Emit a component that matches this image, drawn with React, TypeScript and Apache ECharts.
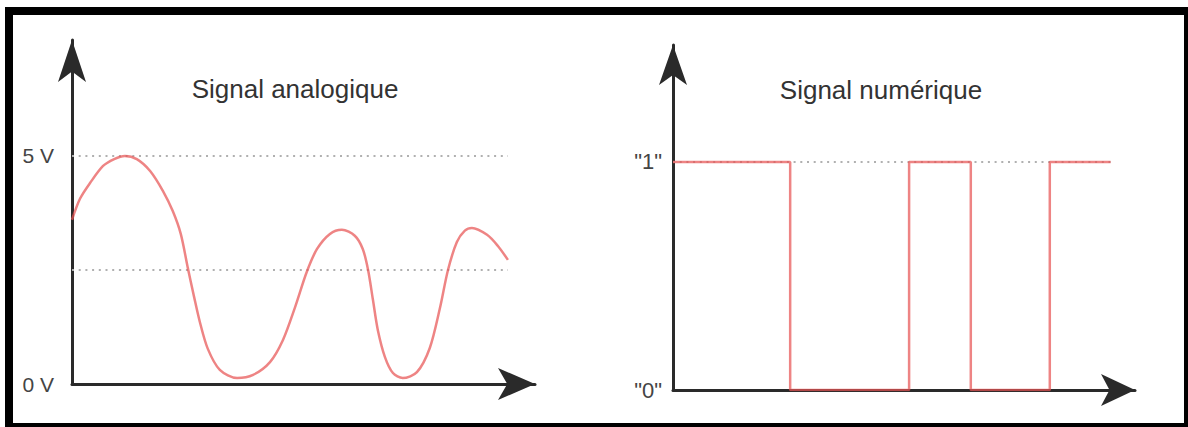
import React, { useEffect, useRef } from "react";
import * as echarts from "echarts";

// Analog signal: time (arbitrary units) and voltage (V)
const analogT = [0, 0.18, 0.41, 0.7, 0.95, 1.19, 1.46, 1.76, 2.05, 2.27, 2.45, 2.61, 2.75, 2.88, 3.06, 3.33, 3.72, 4.08, 4.46, 4.75, 5.02, 5.29, 5.52, 5.81, 6.08, 6.37, 6.55, 6.67, 6.78, 6.89, 7.05, 7.23, 7.45, 7.77, 8.06, 8.29, 8.47, 8.67, 8.85, 9.01, 9.35, 9.59, 9.82];
const analogV = [3.6, 4.06, 4.41, 4.78, 4.93, 5.0, 4.93, 4.67, 4.23, 3.79, 3.29, 2.54, 1.91, 1.36, 0.77, 0.31, 0.13, 0.2, 0.48, 0.96, 1.67, 2.46, 2.96, 3.29, 3.38, 3.25, 2.96, 2.5, 1.84, 1.18, 0.59, 0.24, 0.13, 0.26, 0.79, 1.67, 2.5, 3.11, 3.36, 3.42, 3.27, 3.03, 2.72];
const analogRefLevels = [5, 2.5];
const analogRefEnd = 9.82;
const analogTickValues = [0, 5];
const analogTickLabels = ["0 V", "5 V"];

// Digital signal: transition times and held levels
const digitalT = [0, 2.64, 5.32, 6.71, 8.49, 9.86];
const digitalLevel = [1, 0, 1, 0, 1, 1];
const digitalRefLevels = [1];
const digitalRefEnd = 9.86;
const digitalTickValues = [0, 1];
const digitalTickLabels = ['"0"', '"1"'];

const titles = ["Signal analogique", "Signal numérique"];

const FONT = "'Liberation Sans', Arial, Helvetica, sans-serif";
const AXIS_COLOR = "#2a2a2a";
const RED = "rgba(232,84,84,0.72)";
const DOT = "#b0b0b0";

export default function App() {
  const ref = useRef<HTMLDivElement>(null);

  useEffect(() => {
    if (!ref.current) return;
    const chart = echarts.init(ref.current, undefined, { renderer: "svg" });

    const refSeries = (levels: number[], end: number, axisIdx: number) =>
      levels.map((lv) => ({
        type: "line",
        xAxisIndex: axisIdx,
        yAxisIndex: axisIdx,
        data: [
          [0, lv],
          [end, lv],
        ],
        showSymbol: false,
        silent: true,
        z: 1,
        lineStyle: { color: DOT, width: 2, type: [2, 4.7] },
      }));

    const xAxisCommon = (gridIndex: number, max: number, arrow: [number, number]) => ({
      type: "value",
      gridIndex,
      min: 0,
      max,
      axisLine: {
        show: true,
        onZero: false,
        symbol: ["none", "arrow"],
        symbolSize: arrow,
        lineStyle: { color: AXIS_COLOR, width: 3 },
      },
      axisTick: { show: false },
      axisLabel: { show: false },
      splitLine: { show: false },
    });

    const yAxisCommon = (
      gridIndex: number,
      max: number,
      interval: number,
      values: number[],
      labels: string[],
      arrow: [number, number],
      margin: number,
      fontSize: number
    ) => ({
      type: "value",
      gridIndex,
      min: 0,
      max,
      interval,
      axisLine: {
        show: true,
        onZero: false,
        symbol: ["none", "arrow"],
        symbolSize: arrow,
        lineStyle: { color: AXIS_COLOR, width: 3 },
      },
      axisTick: { show: false },
      splitLine: { show: false },
      axisLabel: {
        show: true,
        margin,
        color: "#444",
        fontFamily: FONT,
        fontSize,
        showMaxLabel: false,
        formatter: (v: number) => {
          const i = values.findIndex((x) => Math.abs(x - v) < 1e-6);
          return i >= 0 ? labels[i] : "";
        },
      },
    });

    chart.setOption({
      animation: false,
      backgroundColor: "#fff",
      grid: [
        { left: 72, top: 40, width: 463, height: 344 },
        { left: 673, top: 45, width: 462, height: 345 },
      ],
      xAxis: [xAxisCommon(0, 10.43, [24, 37]), xAxisCommon(1, 10.41, [24, 34])],
      yAxis: [
        yAxisCommon(0, 7.54, 5, analogTickValues, analogTickLabels, [21, 42], 18, 21),
        yAxisCommon(1, 1.513, 1, digitalTickValues, digitalTickLabels, [21, 40], 11, 22),
      ],
      series: [
        ...refSeries(analogRefLevels, analogRefEnd, 0),
        ...refSeries(digitalRefLevels, digitalRefEnd, 1),
        {
          type: "line",
          xAxisIndex: 0,
          yAxisIndex: 0,
          data: analogT.map((t, i) => [t, analogV[i]]),
          smooth: 0.3,
          showSymbol: false,
          z: 3,
          lineStyle: { color: RED, width: 2.5 },
        },
        {
          type: "line",
          xAxisIndex: 1,
          yAxisIndex: 1,
          data: digitalT.map((t, i) => [t, digitalLevel[i]]),
          step: "end",
          showSymbol: false,
          z: 3,
          lineStyle: { color: RED, width: 2.5 },
        },
      ],
      graphic: [
        {
          type: "text",
          x: 295,
          y: 89,
          style: {
            text: titles[0],
            fill: "#333",
            font: `26px ${FONT}`,
            align: "center",
            verticalAlign: "middle",
          },
        },
        {
          type: "text",
          x: 881,
          y: 90,
          style: {
            text: titles[1],
            fill: "#333",
            font: `26px ${FONT}`,
            align: "center",
            verticalAlign: "middle",
          },
        },
        {
          type: "rect",
          shape: { x: 9, y: 11, width: 1179, height: 416 },
          style: { fill: "none", stroke: "#000", lineWidth: 8 },
          z: 100,
        },
      ],
    });

    return () => chart.dispose();
  }, []);

  return (
    <div
      ref={ref}
      style={{ position: "absolute", left: 0, top: 0, width: 1188, height: 427, background: "#fff" }}
    />
  );
}
